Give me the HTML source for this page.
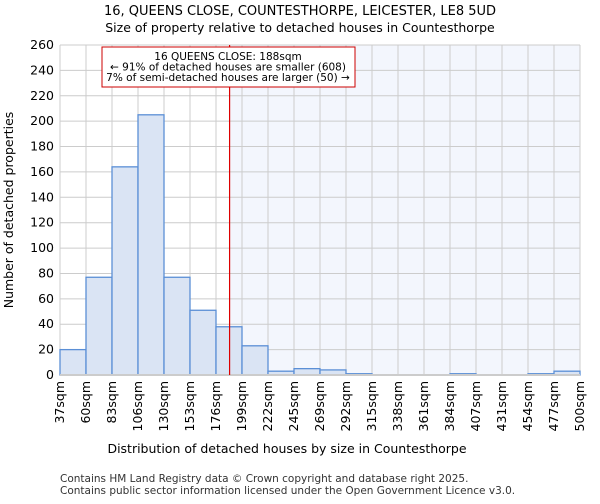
<!DOCTYPE html>
<html><head><meta charset="utf-8"><style>
body{margin:0;background:#fff;font-family:"DejaVu Sans","Liberation Sans",sans-serif;}
</style></head><body>
<svg width="600" height="500" xmlns="http://www.w3.org/2000/svg" font-family="DejaVu Sans, Liberation Sans, sans-serif">
<text x="300" y="15" text-anchor="middle" font-size="13">16, QUEENS CLOSE, COUNTESTHORPE, LEICESTER, LE8 5UD</text>
<text x="300" y="32" text-anchor="middle" font-size="12.5">Size of property relative to detached houses in Countesthorpe</text>
<g id="plot"></g>
<text x="287" y="453" text-anchor="middle" font-size="12.5">Distribution of detached houses by size in Countesthorpe</text>
<text transform="translate(13,210) rotate(-90)" text-anchor="middle" font-size="12.5">Number of detached properties</text>
<text x="60" y="482" font-size="10.5" fill="#333">Contains HM Land Registry data © Crown copyright and database right 2025.</text>
<text x="60" y="494" font-size="10.5" fill="#333">Contains public sector information licensed under the Open Government Licence v3.0.</text>
</svg>
<script>
const categories=["37sqm","60sqm","83sqm","106sqm","130sqm","153sqm","176sqm","199sqm","222sqm","245sqm","269sqm","292sqm","315sqm","338sqm","361sqm","384sqm","407sqm","431sqm","454sqm","477sqm","500sqm"];
const counts=[20,77,164,205,77,51,38,23,3,5,4,1,0,0,0,1,0,0,1,3];
const yTicks=[0,20,40,60,80,100,120,140,160,180,200,220,240,260];
const markerValue=188;
const binStart=37, binWidth=23.15;
const X0=60,X1=580,Y0=375,Y1=45,YMAX=260;
const NS="http://www.w3.org/2000/svg";
const g=document.getElementById('plot');
const xs=i=>X0+i*(X1-X0)/counts.length;
const ys=v=>Y0-v*(Y0-Y1)/YMAX;
const xv=v=>X0+(v-binStart)/binWidth*(X1-X0)/counts.length;
function mk(t,a){const e=document.createElementNS(NS,t);for(const k in a)e.setAttribute(k,a[k]);g.appendChild(e);return e;}
const mx=xv(markerValue);
let e=mk('rect',{x:mx,y:Y1,width:X1-mx,height:Y0-Y1,fill:'#f3f6fd'});


yTicks.forEach(t=>{let l=mk('line',{x1:X0,x2:X1,y1:ys(t),y2:ys(t),stroke:'#ccc','stroke-width':1});


let tx=mk('text',{x:X0-6,y:ys(t)+4,'text-anchor':'end','font-size':12.5});tx.textContent=t;

});
categories.forEach((c,i)=>{let l=mk('line',{x1:xs(i),x2:xs(i),y1:Y1,y2:Y0,stroke:'#ccc','stroke-width':1});


let tx=mk('text',{transform:`translate(${xs(i)+4},${Y0+6}) rotate(-90)`,'text-anchor':'end','font-size':12.5});tx.textContent=c;

});
counts.forEach((v,i)=>{let r=mk('rect',{x:xs(i),y:ys(v),width:xs(i+1)-xs(i),height:Y0-ys(v),fill:'#dae4f4',stroke:'#5b8fd6','stroke-width':1.3});

});
e=mk('line',{x1:X0,x2:X1,y1:Y0,y2:Y0,stroke:'#ccc','stroke-width':2});


e=mk('line',{x1:mx,x2:mx,y1:Y1,y2:Y0,stroke:'#dd0000','stroke-width':1.2});


e=mk('rect',{x:102,y:47,width:253,height:40,fill:'#fff',stroke:'#cc0000','stroke-width':1});


["16 QUEENS CLOSE: 188sqm","← 91% of detached houses are smaller (608)","7% of semi-detached houses are larger (50) →"].forEach((s,i)=>{
let t=mk('text',{x:228,y:60+i*10.5,'text-anchor':'middle','font-size':10.5});t.textContent=s;

});
</script>
</body></html>
